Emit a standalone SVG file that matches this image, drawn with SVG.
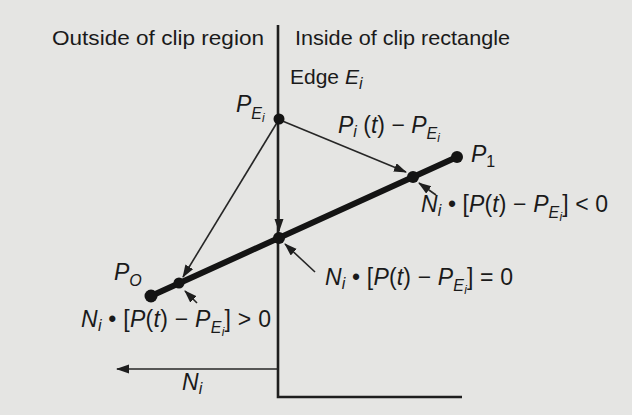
<svg xmlns="http://www.w3.org/2000/svg" width="632" height="415" viewBox="0 0 632 415">
  <style>
    text { font-family: "Liberation Sans", Arial, sans-serif; fill: #1a1a1a; }
    .h { font-size: 21px; }
    .m { font-size: 23px; }
    .it { font-style: italic; }
    .s1 { font-size: 16px; font-style: italic; }
    .s2 { font-size: 12px; font-style: italic; }
    .thin { stroke: #262626; stroke-width: 1.6; fill: none; }
    .edge { stroke: #1e1e1e; stroke-width: 2.6; fill: none; }
    .seg { stroke: #141414; stroke-width: 6; fill: none; stroke-linecap: round; }
    .dot { fill: #141414; }
  </style>
  <defs>
    <marker id="ah" markerUnits="userSpaceOnUse" markerWidth="14" markerHeight="10" refX="12" refY="4.5" orient="auto">
      <path d="M0,0 L13,4.5 L0,9 z" fill="#1e1e1e"/>
    </marker>
  </defs>
  <rect width="632" height="415" fill="#e5e5e3"/>

  <g id="clip-boundary">
    <path class="edge" d="M278,25 L278,397 L462,397"/>
  </g>

  <g id="connectors">
    <path class="seg" d="M151,296 L457,157"/>
    <path class="thin" d="M280,120 L406,172" marker-end="url(#ah)"/>
    <path class="thin" d="M279,200 L279,231" marker-end="url(#ah)"/>
    <path class="thin" d="M278,121 L183,277" marker-end="url(#ah)"/>
    <path class="thin" d="M436,195 L419,183" marker-end="url(#ah)"/>
    <path class="thin" d="M315,272 L285,244" marker-end="url(#ah)"/>
    <path class="thin" d="M197,303 L185,291" marker-end="url(#ah)"/>
    <path class="thin" d="M278,369 L117,369" marker-end="url(#ah)"/>
  </g>

  <g id="headings">
    <text class="h" x="52" y="45" textLength="212" lengthAdjust="spacingAndGlyphs">Outside of clip region</text>
    <text class="h" x="295" y="45" textLength="215" lengthAdjust="spacingAndGlyphs">Inside of clip rectangle</text>
  </g>

  <g id="edge-label">
    <text class="h" x="290" y="84">Edge <tspan class="it">E</tspan><tspan class="s1" dy="5">i</tspan></text>
  </g>

  <g id="node-PEi">
    <circle class="dot" cx="279" cy="119" r="5.5"/>
    <text class="m" x="236" y="112"><tspan class="it">P</tspan><tspan class="s1" dy="7">E</tspan><tspan class="s2" dy="3">i</tspan></text>
  </g>

  <g id="node-P1">
    <circle class="dot" cx="457" cy="157" r="6"/>
    <text class="m" x="471" y="162"><tspan class="it">P</tspan><tspan font-size="16" dy="5">1</tspan></text>
  </g>

  <g id="node-P0">
    <circle class="dot" cx="151" cy="296" r="6.5"/>
    <text class="m" x="114" y="280"><tspan class="it">P</tspan><tspan class="s1" dy="6">O</tspan></text>
  </g>

  <g id="node-upper-intersection">
    <circle class="dot" cx="413" cy="177" r="6"/>
    <text class="m" x="421" y="212" textLength="187" lengthAdjust="spacing"><tspan class="it">N</tspan><tspan class="s1" dy="4">i</tspan><tspan dy="-4"> • [</tspan><tspan class="it">P</tspan>(<tspan class="it">t</tspan>) − <tspan class="it">P</tspan><tspan class="s1" dy="6">E</tspan><tspan class="s2" dy="3">i</tspan><tspan dy="-9">] &lt; 0</tspan></text>
  </g>

  <g id="node-middle-intersection">
    <circle class="dot" cx="279" cy="238" r="6"/>
    <text class="m" x="325" y="285" textLength="188" lengthAdjust="spacing"><tspan class="it">N</tspan><tspan class="s1" dy="4">i</tspan><tspan dy="-4"> • [</tspan><tspan class="it">P</tspan>(<tspan class="it">t</tspan>) − <tspan class="it">P</tspan><tspan class="s1" dy="6">E</tspan><tspan class="s2" dy="3">i</tspan><tspan dy="-9">] = 0</tspan></text>
  </g>

  <g id="node-lower-intersection">
    <circle class="dot" cx="179" cy="283" r="5.5"/>
    <text class="m" x="81" y="327" textLength="190" lengthAdjust="spacing"><tspan class="it">N</tspan><tspan class="s1" dy="4">i</tspan><tspan dy="-4"> • [</tspan><tspan class="it">P</tspan>(<tspan class="it">t</tspan>) − <tspan class="it">P</tspan><tspan class="s1" dy="6">E</tspan><tspan class="s2" dy="3">i</tspan><tspan dy="-9">] &gt; 0</tspan></text>
  </g>

  <g id="vector-labels">
    <text class="m" x="338" y="133"><tspan class="it">P</tspan><tspan class="s1" dy="4">i</tspan><tspan dy="-4"> (</tspan><tspan class="it">t</tspan>) − <tspan class="it">P</tspan><tspan class="s1" dy="6">E</tspan><tspan class="s2" dy="3">i</tspan></text>
    <text class="m" x="182" y="390"><tspan class="it">N</tspan><tspan class="s1" dy="4">i</tspan></text>
  </g>
</svg>
